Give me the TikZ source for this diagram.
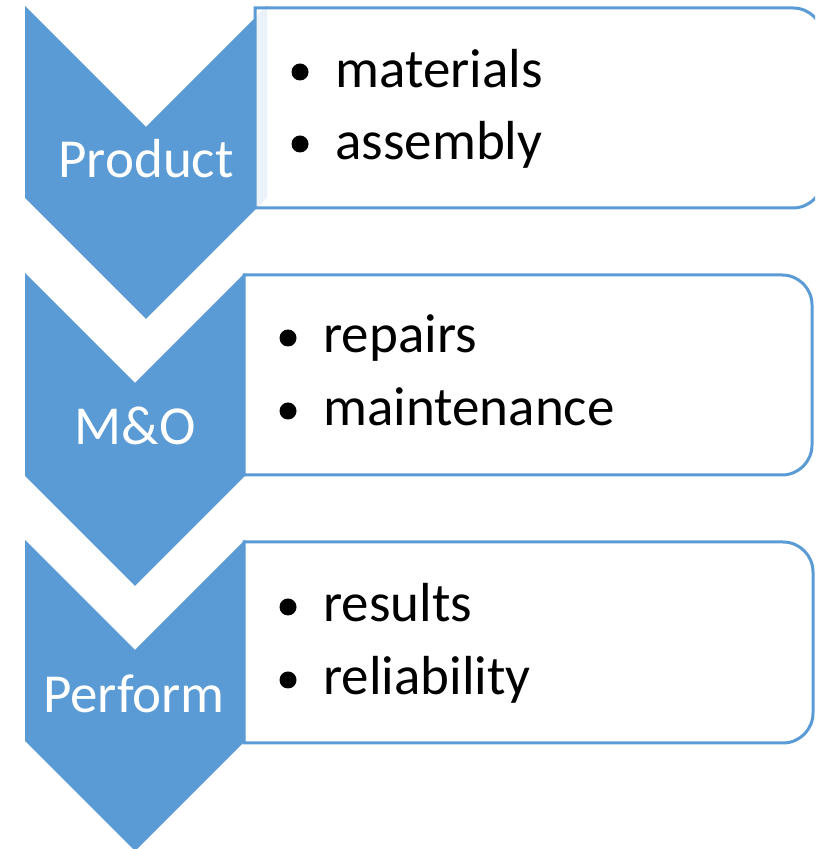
\documentclass[tikz,border=0pt]{standalone}
\usepackage{fontspec}
\setmainfont{Carlito}
\definecolor{StepBlue}{HTML}{5B9BD5}

\begin{document}
\begin{tikzpicture}
[
x=0.5pt, y=0.5pt,
Chevron/.style={fill=StepBlue, draw=none},
StepBox/.style={draw=StepBlue, line width=1.5pt, fill=white, fill opacity=0.88, draw opacity=1},
StepLabel/.style={text=white, font=\fontsize{27.5}{33}\selectfont, inner sep=0pt, anchor=base},
Item/.style={text=black, font=\fontsize{27.5}{33}\selectfont, inner sep=0pt, anchor=base west},
Dot/.style={circle, fill=black, inner sep=0pt, minimum size=8.5pt},
]

\clip (0,0) rectangle (815,849);

%\draw[StepBox] (0,0) rectangle (815,849);
\fill[Chevron] (25,843)--(146,722)--(267,843)--(267,651)--(146,530)--(25,651)--cycle;
\draw[StepBox] (255,841)--(793,841) arc[start angle=90,end angle=0,radius=30]
   --(823,671) arc[start angle=0,end angle=-90,radius=30]--(255,641)--cycle;

\fill[Chevron] (25,576)--(135,466)--(245,576)--(245,373)--(135,263)--(25,373)--cycle;
\draw[StepBox] (244,574)--(782,574) arc[start angle=90,end angle=0,radius=30]
   --(812,404) arc[start angle=0,end angle=-90,radius=30]--(244,374)--cycle;

\fill[Chevron] (25,309)--(135,199)--(245,309)--(245,108)--(135,-2)--(25,108)--cycle;
\draw[StepBox] (244,307)--(783,307) arc[start angle=90,end angle=0,radius=30]
   --(813,136) arc[start angle=0,end angle=-90,radius=30]--(244,106)--cycle;

\node[StepLabel] (product) at (146,671) {Product};
\node[StepLabel] (mo) at (135,404) {M\&O};
\node[StepLabel] (perform) at (134,136) {Perform};

\node[Dot] (dotmat) at (300,777) {};
\node[Item] (materials) at (335,761) {materials};
\node[Dot] (dotass) at (300,705) {};
\node[Item] (assembly) at (335,689) {assembly};

\node[Dot] (dotrep) at (288,511) {};
\node[Item] (repairs) at (323,496) {repairs};
\node[Dot] (dotmai) at (288,438) {};
\node[Item] (maintenance) at (323,423) {maintenance};

\node[Dot] (dotres) at (288,242) {};
\node[Item] (results) at (323,227) {results};
\node[Dot] (dotrel) at (288,169) {};
\node[Item] (reliability) at (323,154) {reliability};

\end{tikzpicture}
\end{document}
